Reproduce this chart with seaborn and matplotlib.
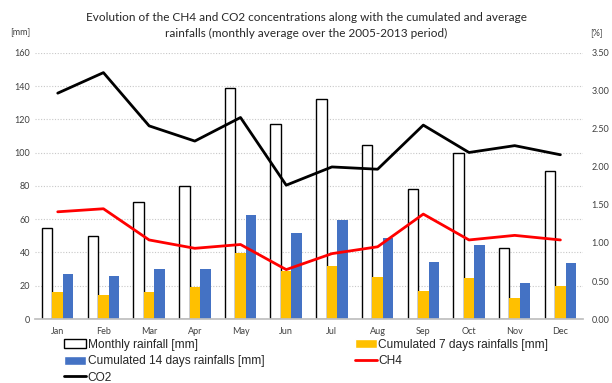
import numpy as np
import pandas as pd
import matplotlib
matplotlib.use("Agg")
import matplotlib.pyplot as plt
from matplotlib.patches import Patch
from matplotlib.lines import Line2D
import seaborn as sns

months = ["Jan", "Feb", "Mar", "Apr", "May", "Jun",
          "Jul", "Aug", "Sep", "Oct", "Nov", "Dec"]
monthly_rain = [55, 50, 70.5, 80, 139, 117, 132.5, 104.5, 78, 100, 43, 89]
rain_7d = [16.5, 14.5, 16.5, 19, 39.5, 29, 32, 25.5, 17, 24.5, 12.5, 20]
rain_14d = [27, 26, 30, 30, 62.5, 51.5, 59.5, 48.7, 34, 44.7, 21.7, 33.5]
ch4 = [1.41, 1.45, 1.04, 0.93, 0.98, 0.65, 0.86, 0.95, 1.38, 1.04, 1.10, 1.04]
co2 = [2.97, 3.24, 2.54, 2.34, 2.65, 1.76, 2.00, 1.97, 2.55, 2.19, 2.28, 2.16]

series_names = ["Monthly rainfall [mm]",
                "Cumulated 7 days rainfalls [mm]",
                "Cumulated 14 days rainfalls [mm]"]

sns.set_theme(style="white")
plt.rcParams["font.family"] = ["Lato", "DejaVu Sans"]

bars = pd.DataFrame({
    "month": months * 3,
    "value": monthly_rain + rain_7d + rain_14d,
    "series": [series_names[0]] * 12 + [series_names[1]] * 12 + [series_names[2]] * 12,
})
lines = pd.DataFrame({"pos": np.arange(len(months)), "CH4": ch4, "CO2": co2})

fig = plt.figure(figsize=(6.12, 3.83), dpi=100)
ax = fig.add_axes([0.057, 0.167, 0.896, 0.695])

palette = {series_names[0]: "white", series_names[1]: "#FFC000",
           series_names[2]: "#4472C4"}
sns.barplot(data=bars, x="month", y="value", hue="series", order=months,
            hue_order=series_names, palette=palette, width=0.69,
            saturation=1, legend=False, linewidth=0, ax=ax)
# outline the monthly totals
for patch in ax.containers[0]:
    patch.set_edgecolor("black")
    patch.set_linewidth(1.0)

ax.set_ylim(0, 160)
ax.set_yticks(np.arange(0, 161, 20))
ax.set_xlim(-0.5, 11.5)
ax.set_xlabel("")
ax.set_ylabel("")
ax.yaxis.grid(True, linestyle=(0, (1, 1.5)), color="#c8c8c8", linewidth=0.8)
ax.set_axisbelow(True)
for s in ["top", "right", "left"]:
    ax.spines[s].set_visible(False)
ax.spines["bottom"].set_color("#bfbfbf")
ax.tick_params(axis="both", length=0, colors="#404040", labelsize=6.5)
ax.tick_params(axis="x", pad=6)

ax2 = ax.twinx()
sns.lineplot(data=lines, x="pos", y="CH4", color="#FF0000", linewidth=2,
             ax=ax2)
sns.lineplot(data=lines, x="pos", y="CO2", color="black", linewidth=2,
             ax=ax2)
ax2.set_ylim(0, 3.5)
ax2.set_yticks(np.arange(0, 3.51, 0.5))
ax2.set_yticklabels([f"{v:.2f}" for v in np.arange(0, 3.51, 0.5)])
ax2.set_xlim(-0.5, 11.5)
ax2.set_xlabel("")
ax2.set_ylabel("")
for s in ["top", "right", "left", "bottom"]:
    ax2.spines[s].set_visible(False)
ax2.tick_params(axis="y", length=0, colors="#404040", labelsize=6.5, pad=6)

fig.text(0.5, 0.955, "Evolution of the CH4 and CO2 concentrations along with the cumulated and average",
         ha="center", va="center", fontsize=8.5, color="#262626")
fig.text(0.5, 0.913, "rainfalls (monthly average over the 2005-2013 period)",
         ha="center", va="center", fontsize=8.5, color="#262626")
fig.text(10 / 612, 1 - 33 / 383, "[mm]", ha="left", va="center", fontsize=6.5, color="#404040")
fig.text(590 / 612, 1 - 33 / 383, "[%]", ha="left", va="center", fontsize=6.5, color="#404040")

handles = [
    Patch(facecolor="white", edgecolor="black", linewidth=1.0),
    Patch(facecolor="#4472C4"),
    Line2D([], [], color="black", linewidth=2),
    Patch(facecolor="#FFC000"),
    Line2D([], [], color="#FF0000", linewidth=2),
]
labels = [series_names[0], series_names[2], "CO2", series_names[1], "CH4"]
fig.legend(handles, labels, loc="upper left", ncol=2,
           bbox_to_anchor=(64 / 612, 1 - 339 / 383), frameon=False,
           prop={"family": "Liberation Sans", "size": 8.6},
           handlelength=1.85, handleheight=0.75, handletextpad=0.12,
           columnspacing=7.6, labelspacing=0.36, borderpad=0,
           borderaxespad=0)

fig.savefig("out.png", dpi=100)
